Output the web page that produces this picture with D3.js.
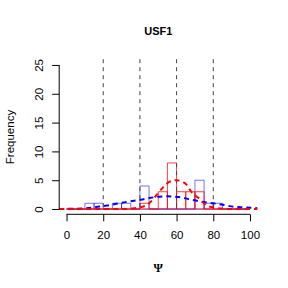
<!DOCTYPE html>
<html>
<head>
<meta charset="utf-8">
<script src="https://cdn.jsdelivr.net/npm/d3@7"></script>
<style>
  body { margin: 0; background: #fff; }
  text { font-family: "Liberation Sans", Arial, sans-serif; fill: #000; }
</style>
</head>
<body>
<div id="chart"></div>
<script>
// histogram bins (start of each 5-wide bin)
const binStarts = [0, 5, 10, 15, 20, 25, 30, 35, 40, 45, 50, 55, 60, 65, 70, 75, 80, 85, 90, 95];
const blueCounts = [0, 0, 1, 1, 0, 1, 1, 0, 4, 0, 0, 0, 0, 0, 5, 1, 1, 0, 0, 0];
const redCounts  = [0, 0, 0, 0, 0, 0, 0, 0, 1, 0, 3, 8, 3, 3, 3, 0, 0, 0, 0, 0];

// density curves (scaled to counts)
const blueCurve = [[-4, 0.02], [5, 0.05], [11, 0.15], [16, 0.35], [22, 0.6], [30, 1.1], [36, 1.4],
  [42, 1.7], [49, 2.1], [55, 2.2], [61, 2.1], [67, 1.7], [73, 1.3], [80, 1.0], [86, 0.7],
  [91, 0.4], [97, 0.3], [104, 0.15]];
const redCurve = [[-4, 0], [30, 0], [36, 0.1], [40, 0.3], [42, 0.45], [45, 1.0], [48, 2.0],
  [50, 2.8], [53, 3.9], [56, 4.7], [60, 5.0], [62, 4.9], [65.5, 4.2], [68, 3.0], [72, 1.9],
  [76, 0.7], [80, 0.3], [85, 0.08], [90, 0], [104, 0]];

const xTicks = [0, 20, 40, 60, 80, 100];
const yTicks = [0, 5, 10, 15, 20, 25];
const vLines = [20, 40, 60, 80];
const binWidth = 5;

const width = 288, height = 288;
const svg = d3.select("#chart").append("svg")
  .attr("width", width)
  .attr("height", height);

const x = d3.scaleLinear().domain([-4, 104]).range([59.2, 257.3]);
const y = d3.scaleLinear().domain([-1, 26]).range([214.8, 59.2]);

// bars as open paths so empty bins still show the baseline
function barPath(start, count) {
  const x0 = x(start), x1 = x(start + binWidth), y0 = y(0), y1 = y(count);
  return `M${x0},${y0}V${y1}H${x1}V${y0}Z`;
}

svg.append("g").selectAll("path")
  .data(binStarts)
  .enter().append("path")
  .attr("d", (d, i) => barPath(d, blueCounts[i]))
  .attr("fill", "none")
  .attr("stroke", "rgba(0,0,255,0.55)")
  .attr("stroke-width", 1);

svg.append("g").selectAll("path")
  .data(binStarts)
  .enter().append("path")
  .attr("d", (d, i) => barPath(d, redCounts[i]))
  .attr("fill", "none")
  .attr("stroke", "rgba(255,0,0,0.75)")
  .attr("stroke-width", 1);

// reference lines
svg.append("g").selectAll("line")
  .data(vLines)
  .enter().append("line")
  .attr("x1", d => x(d)).attr("x2", d => x(d))
  .attr("y1", y(26)).attr("y2", y(0))
  .attr("stroke", "#444")
  .attr("stroke-width", 1)
  .attr("stroke-dasharray", "4,4");

const line = d3.line()
  .x(d => x(d[0]))
  .y(d => y(d[1]))
  .curve(d3.curveMonotoneX);

svg.append("path")
  .datum(blueCurve)
  .attr("d", line)
  .attr("fill", "none")
  .attr("stroke", "#0000ff")
  .attr("stroke-width", 2)
  .attr("stroke-dasharray", "5,4");

svg.append("path")
  .datum(redCurve)
  .attr("d", line)
  .attr("fill", "none")
  .attr("stroke", "#ff0000")
  .attr("stroke-width", 2)
  .attr("stroke-dasharray", "5,4");

// x axis
const xAxis = d3.axisBottom(x)
  .tickValues(xTicks)
  .tickSize(7)
  .tickSizeOuter(0)
  .tickPadding(10);

const gx = svg.append("g")
  .attr("transform", `translate(0, ${y(-1) - 0.5})`)
  .call(xAxis);
gx.select(".domain").remove();
gx.append("line")
  .attr("x1", x(0)).attr("x2", x(100))
  .attr("stroke", "#000");
gx.selectAll("text").style("font-size", "11.5px").attr("font-family", null);
gx.selectAll(".tick line").attr("stroke", "#000");

// y axis
const yAxis = d3.axisLeft(y)
  .tickValues(yTicks)
  .tickSize(7)
  .tickSizeOuter(0);

const gy = svg.append("g")
  .attr("transform", `translate(${x(-4)}, 0)`)
  .call(yAxis);
gy.select(".domain").remove();
gy.append("line")
  .attr("y1", y(0)).attr("y2", y(25))
  .attr("stroke", "#000");
gy.selectAll(".tick line").attr("stroke", "#000");
gy.selectAll(".tick text")
  .attr("x", 0).attr("dy", null)
  .attr("transform", "translate(-20.7,0) rotate(-90)")
  .attr("text-anchor", "middle")
  .attr("dominant-baseline", "central")
  .style("font-size", "11.5px")
  .attr("font-family", null);

// titles
svg.append("text")
  .attr("x", (x(0) + x(100)) / 2)
  .attr("y", 34.5)
  .attr("text-anchor", "middle")
  .style("font-size", "11px")
  .style("font-weight", "bold")
  .text("USF1");

svg.append("text")
  .attr("transform", `translate(14, ${(y(0) + y(25)) / 2}) rotate(-90)`)
  .attr("text-anchor", "middle")
  .style("font-size", "11.5px")
  .text("Frequency");

svg.append("text")
  .attr("x", (x(0) + x(100)) / 2)
  .attr("y", 272)
  .attr("text-anchor", "middle")
  .style("font-family", "'Liberation Serif', serif")
  .style("font-size", "12px")
  .style("font-weight", "bold")
  .text("Ψ");
</script>
</body>
</html>
